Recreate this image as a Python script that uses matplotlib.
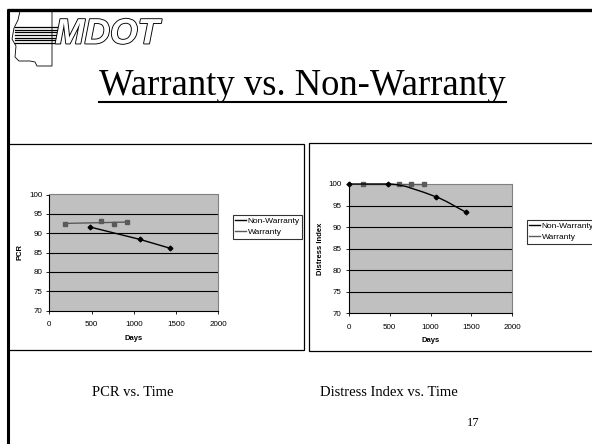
import numpy as np
import matplotlib
matplotlib.use("Agg")
import matplotlib.pyplot as plt
from matplotlib.patches import Rectangle, Polygon
from matplotlib.path import Path
from matplotlib.patches import PathPatch
from matplotlib.lines import Line2D
import matplotlib.patheffects as pe

# ---------------- data ----------------
series_names = ["Non-Warranty", "Warranty"]
pcr_nonwarr_days = [480, 1070, 1430]
pcr_nonwarr_vals = [91.6, 88.4, 86.1]
pcr_warr_days = [180, 610, 760, 920]
pcr_warr_vals = [92.4, 93.2, 92.4, 92.9]

di_nonwarr_days = [0, 480, 1070, 1430]
di_nonwarr_vals = [100, 100, 97.0, 93.5]
di_warr_days = [180, 610, 760, 920]
di_warr_vals = [100, 100, 100, 100]

x_ticks = [0, 500, 1000, 1500, 2000]
y_ticks = [70, 75, 80, 85, 90, 95, 100]

title_text = "Warranty vs. Non-Warranty"
sub_left = "PCR vs. Time"
sub_right = "Distress Index vs. Time"
page_no = "17"

W, H = 592, 444
fig = plt.figure(figsize=(W / 100, H / 100), dpi=100)
fig.patch.set_facecolor("white")

def fx(x):
    return x / W

def fy(y):
    return 1 - y / H

SANS = ["Liberation Sans", "DejaVu Sans"]
SERIF = ["Liberation Serif", "DejaVu Serif"]

# ---------------- slide frame ----------------
fig.add_artist(Line2D([fx(7), fx(592)], [fy(10), fy(10)], color="black", lw=2.4,
                      transform=fig.transFigure, solid_capstyle="butt"))
fig.add_artist(Line2D([fx(8), fx(8)], [fy(9), fy(444)], color="black", lw=2.2,
                      transform=fig.transFigure, solid_capstyle="butt"))

# ---------------- logo ----------------
state = [(20, 11), (52, 11), (52, 66), (37, 66), (35, 62), (30, 61), (19, 61),
         (15, 57), (16, 46), (12, 39), (14, 28), (18, 20)]
fig.add_artist(Polygon([(fx(a), fy(b)) for a, b in state], closed=True,
                       facecolor="white", edgecolor="black", lw=0.6,
                       transform=fig.transFigure))
for yy in np.linspace(27, 43, 7):
    fig.add_artist(Line2D([fx(15), fx(60)], [fy(yy), fy(yy)], color="black", lw=0.9,
                          transform=fig.transFigure))
fig.text(fx(55), fy(34), "MDOT", fontsize=25.5, fontweight="bold", fontstyle="italic",
         family=SANS, color="white", ha="left", va="center",
         path_effects=[pe.withStroke(linewidth=1.3, foreground="black")])

# ---------------- title ----------------
fig.text(fx(302.5), fy(95), title_text, fontsize=26.4, family=SERIF, ha="center",
         va="baseline", color="black")
fig.add_artist(Line2D([fx(99), fx(506)], [fy(102.5), fy(102.5)], color="black", lw=1.5,
                      transform=fig.transFigure))

# ---------------- chart boxes ----------------
fig.add_artist(Rectangle((fx(8), fy(350)), fx(304) - fx(8), fy(144) - fy(350),
                         facecolor="white", edgecolor="black", lw=0.9,
                         transform=fig.transFigure, zorder=-1))
fig.add_artist(Rectangle((fx(309), fy(351)), fx(600) - fx(309), fy(143) - fy(351),
                         facecolor="white", edgecolor="black", lw=0.9,
                         transform=fig.transFigure, zorder=-1))

GREY_BG = "#c0c0c0"
WARR_C = "#5a5a5a"


def style_axes(ax):
    ax.set_facecolor(GREY_BG)
    ax.set_xlim(0, 2000)
    ax.set_ylim(70, 100)
    ax.set_xticks(x_ticks)
    ax.set_yticks(y_ticks)
    ax.set_xticklabels([str(t) for t in x_ticks], family=SANS, fontsize=5.8)
    ax.set_yticklabels([str(t) for t in y_ticks], family=SANS, fontsize=5.8)
    for t in y_ticks[1:-1]:
        ax.axhline(t, color="black", lw=0.8, zorder=1)
    for s in ["top", "right"]:
        ax.spines[s].set_color("#808080")
        ax.spines[s].set_linewidth(0.8)
    for s in ["left", "bottom"]:
        ax.spines[s].set_color("black")
        ax.spines[s].set_linewidth(0.8)
    ax.tick_params(axis="both", direction="out", length=2.5, width=0.6, pad=2.5,
                   colors="black")
    ax.tick_params(axis="x", pad=5)


def add_legend(ax, x0, y0):
    handles = [Line2D([], [], color="black", lw=1.0),
               Line2D([], [], color=WARR_C, lw=1.0)]
    leg = ax.legend(handles, series_names, loc="upper left",
                    bbox_to_anchor=(fx(x0), fy(y0)), bbox_transform=fig.transFigure,
                    borderaxespad=0, frameon=True, fancybox=False,
                    prop={"family": SANS, "size": 6}, handlelength=1.3,
                    handletextpad=0.2, borderpad=0.3, labelspacing=0.35)
    leg.get_frame().set_edgecolor("black")
    leg.get_frame().set_linewidth(0.8)
    leg.set_clip_on(False)
    return leg


def monotone_path(xd, yd):
    x = np.asarray(xd, float)
    y = np.asarray(yd, float)
    n = len(x)
    h = np.diff(x)
    d = np.diff(y) / h
    m = np.zeros(n)
    m[0], m[-1] = d[0], d[-1]
    for i in range(1, n - 1):
        if d[i - 1] * d[i] <= 0:
            m[i] = 0.0
        else:
            w1 = 2 * h[i] + h[i - 1]
            w2 = h[i] + 2 * h[i - 1]
            m[i] = (w1 + w2) / (w1 / d[i - 1] + w2 / d[i])
    verts = [(x[0], y[0])]
    codes = [Path.MOVETO]
    for i in range(n - 1):
        c1 = (x[i] + h[i] / 3, y[i] + m[i] * h[i] / 3)
        c2 = (x[i + 1] - h[i] / 3, y[i + 1] - m[i + 1] * h[i] / 3)
        verts += [c1, c2, (x[i + 1], y[i + 1])]
        codes += [Path.CURVE4] * 3
    return Path(verts, codes)


def labels(ax, ylab, ylab_x, xlab_y):
    bb = ax.get_position()
    fig.text(fx(ylab_x), bb.y0 + bb.height / 2, ylab, rotation=90, family=SANS,
             fontsize=5.5, fontweight="bold", ha="center", va="center")
    fig.text(bb.x0 + bb.width / 2, fy(xlab_y), "Days", family=SANS,
             fontsize=5.5, fontweight="bold", ha="center", va="center")


# ---------------- left chart: PCR ----------------
axL = fig.add_axes([fx(49.3), fy(310.5), fx(218.3) - fx(49.3), fy(194.5) - fy(310.5)])
style_axes(axL)
axL.plot(pcr_warr_days, pcr_warr_vals, ls="none", marker="s", ms=2.6, color=WARR_C, zorder=3)
coef = np.polyfit(pcr_warr_days, pcr_warr_vals, 1)
xs = np.array([min(pcr_warr_days), max(pcr_warr_days)])
axL.plot(xs, np.polyval(coef, xs), color=WARR_C, lw=1.0, zorder=3)
axL.plot(pcr_nonwarr_days, pcr_nonwarr_vals, color="black", lw=1.0, marker="D", ms=2.4,
         zorder=4)
labels(axL, "PCR", 20, 338.5)
add_legend(axL, 232.7, 215)

# ---------------- right chart: Distress Index ----------------
axR = fig.add_axes([fx(348.7), fy(313.3), fx(512.3) - fx(348.7), fy(184) - fy(313.3)])
style_axes(axR)
axR.plot(di_warr_days, di_warr_vals, color=WARR_C, lw=1.0, marker="s", ms=2.6, zorder=3,
         clip_on=False)
axR.add_patch(PathPatch(monotone_path(di_nonwarr_days, di_nonwarr_vals), facecolor="none",
                        edgecolor="black", lw=1.0, zorder=4, clip_on=False))
axR.plot(di_nonwarr_days, di_nonwarr_vals, ls="none", marker="D", ms=2.4, color="black",
         zorder=5, clip_on=False)
labels(axR, "Distress Index", 320.7, 340)
add_legend(axR, 526.7, 220)

# ---------------- captions ----------------
fig.text(fx(133), fy(393), sub_left, fontsize=10.5, family=SERIF, ha="center", va="center")
fig.text(fx(389), fy(393), sub_right, fontsize=10.5, family=SERIF, ha="center", va="center")
fig.text(fx(473), fy(423), page_no, fontsize=9, family=SERIF, ha="center", va="center")

fig.savefig("out.png", dpi=100, facecolor="white")
